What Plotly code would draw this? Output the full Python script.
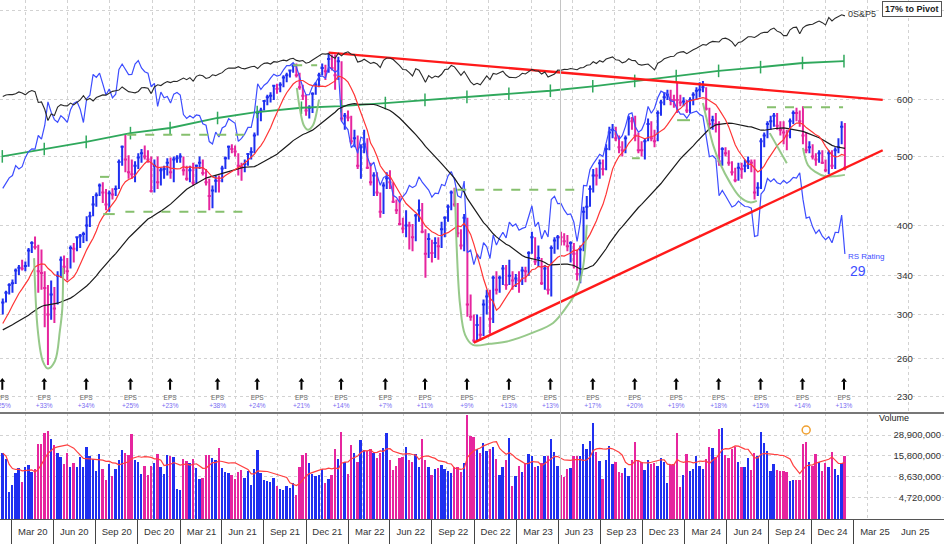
import numpy as np
import pandas as pd
import plotly.graph_objects as go

UP = '#1f2ff0'
DOWN = '#e6259e'
GRID = '#d2d2d2'
FONT = 'Liberation Sans, Arial, sans-serif'

# weekly bars, week ending Friday, first visible week
first_week = '2019-12-13'

# closes from Mar-Dec 2019, only used to seed the 10 and 40 week averages
seed_close = [266, 262, 266, 272, 275, 282, 286, 285, 276, 277, 270, 271, 280, 285, 300, 295,
              303, 310, 306, 306, 296, 290, 284, 282, 284, 287, 282, 283, 276, 268, 270, 272,
              268, 283, 290, 300, 305, 310, 305]

high_2019 = [316, 324, 332]
low_2019 = [300, 312, 320]
close_2019 = [312, 322, 330]

high_2020 = [336, 348, 352, 358, 356, 372, 380, 386, 376, 370, 345, 330, 335, 328, 345, 362, 363,
             360, 375, 378, 386, 389, 392, 412, 418, 440, 445, 458, 460, 450, 448, 451, 455, 495, 518,
             536, 502, 495, 492, 505, 512, 518, 510, 500, 495, 500, 482, 485, 497, 498, 500, 502]
low_2020 = [322, 331, 341, 346, 345, 350, 366, 370, 322, 325, 288, 255, 295, 292, 310, 338, 342,
            335, 348, 355, 368, 372, 378, 380, 398, 412, 425, 440, 430, 420, 418, 435, 440, 450, 485,
            475, 465, 465, 460, 480, 490, 495, 490, 445, 445, 450, 455, 465, 470, 465, 460, 490]
close_2020 = [332, 346, 349, 348, 351, 369, 378, 373, 345, 343, 327, 300, 320, 306, 340, 358, 350,
              345, 372, 371, 385, 387, 389, 400, 412, 428, 441, 455, 445, 428, 444, 442, 450, 491, 516,
              495, 475, 472, 485, 498, 505, 500, 495, 447, 485, 460, 478, 480, 490, 475, 495, 497]

high_2021 = [505, 500, 485, 485, 490, 487, 500, 495, 480, 465, 455, 470, 470, 485, 500, 518, 520, 518,
             505, 490, 495, 505, 515, 540, 580, 585, 600, 610, 615, 630, 632, 635, 650, 655, 662,
             673, 675, 655, 630, 610, 590, 615, 635, 655, 675, 672, 699, 695, 695, 690, 680, 575, 580]
low_2021 = [490, 470, 462, 460, 455, 458, 480, 470, 455, 420, 423, 445, 445, 460, 480, 495, 505, 500,
            470, 462, 475, 485, 495, 505, 535, 560, 580, 590, 595, 600, 612, 615, 625, 635, 645,
            655, 645, 620, 600, 570, 565, 575, 610, 625, 650, 640, 655, 660, 620, 640, 560, 545, 560]
close_2021 = [500, 478, 465, 478, 459, 485, 490, 474, 460, 440, 448, 462, 462, 481, 497, 516, 512, 508,
              485, 483, 488, 504, 507, 535, 575, 580, 598, 605, 608, 628, 622, 630, 645, 650, 660,
              670, 650, 625, 608, 580, 585, 612, 630, 650, 665, 658, 685, 665, 650, 680, 565, 570, 567]

high_2022 = [570, 545, 535, 520, 545, 530, 490, 475, 475, 445, 460, 475, 478, 460, 435, 440, 410,
             420, 405, 402, 415, 435, 430, 395, 390, 382, 385, 385, 405, 412, 428, 448, 452, 430,
             395, 415, 410, 320, 300, 300, 298, 315, 325, 325, 340, 345, 340, 352, 352, 358, 345, 342]
low_2022 = [520, 515, 480, 465, 505, 480, 455, 440, 440, 410, 415, 450, 450, 430, 415, 400, 390,
            385, 370, 368, 380, 405, 390, 338, 360, 355, 360, 358, 372, 385, 405, 420, 425, 385,
            370, 368, 298, 294, 274, 276, 276, 280, 300, 282, 292, 320, 322, 330, 325, 330, 325, 328]
close_2022 = [525, 530, 485, 515, 520, 482, 460, 470, 445, 418, 455, 466, 460, 432, 420, 402, 396,
              400, 400, 385, 413, 420, 392, 365, 383, 366, 378, 374, 395, 410, 425, 445, 428, 390,
              375, 410, 310, 298, 276, 290, 281, 310, 318, 296, 338, 325, 338, 348, 330, 340, 335, 337]

high_2023 = [345, 350, 350, 368, 392, 385, 375, 360, 352, 350, 375, 385, 388, 392, 390, 388, 380,
             378, 370, 375, 425, 440, 455, 480, 482, 495, 495, 520, 550, 555, 550, 535, 525, 535,
             570, 568, 570, 540, 525, 530, 565, 560, 545, 580, 600, 615, 620, 620, 610, 635, 610, 605]
low_2023 = [322, 330, 333, 340, 365, 352, 350, 330, 325, 320, 318, 365, 370, 375, 375, 368, 355,
            348, 335, 332, 368, 408, 425, 445, 455, 465, 470, 478, 510, 530, 525, 505, 500, 505,
            535, 545, 525, 505, 500, 495, 525, 525, 515, 525, 570, 590, 600, 590, 585, 575, 588, 588]
close_2023 = [335, 346, 345, 366, 385, 356, 360, 332, 348, 325, 372, 381, 385, 385, 380, 374, 378,
              365, 342, 370, 418, 425, 450, 470, 470, 489, 480, 512, 540, 545, 530, 515, 510, 530,
              565, 560, 535, 510, 510, 525, 555, 530, 525, 575, 595, 605, 610, 600, 600, 600, 595, 597]

high_2024 = [600, 605, 615, 625, 635, 638, 625, 585, 570, 575, 560, 515, 515, 510, 492, 482, 490,
             490, 495, 500, 495, 495, 460, 530, 540, 560, 570, 575, 575, 560, 560, 545, 565, 580, 585,
             580, 588, 540, 525, 520, 505, 510, 510, 495, 510, 510, 515, 530, 560, 557]
low_2024 = [575, 575, 590, 600, 605, 615, 580, 545, 545, 540, 485, 485, 500, 485, 470, 460, 462,
            465, 475, 480, 475, 435, 440, 450, 515, 530, 545, 550, 545, 535, 520, 510, 530, 555, 560,
            550, 520, 505, 505, 495, 485, 490, 488, 475, 472, 480, 480, 505, 520, 478]
close_2024 = [580, 600, 610, 618, 620, 625, 583, 555, 562, 555, 492, 512, 505, 490, 475, 463, 482,
              480, 485, 492, 490, 445, 452, 525, 535, 555, 560, 570, 552, 545, 540, 535, 560, 575, 575,
              560, 535, 510, 515, 500, 495, 505, 490, 478, 505, 485, 510, 515, 550, 482]

# weekly volume, millions of shares
vol_2019 = [17.1, 14.4, 5.6]
vol_2020 = [6.9, 9.6, 11.1, 7.4, 11.6, 12.2, 10.1, 10.8, 22.1, 22.1, 30.8, 32.6, 25.6, 21.7, 17.4,
            15.5, 12.5, 17.4, 11.6, 12.8, 11.6, 15.5, 11.6, 20.4, 15.8, 14.4, 10.4, 16.8, 10.8, 7.95,
            12.5, 8.8, 10.8, 14.1, 18.8, 17.1, 16.3, 29.6, 14.1, 13.4, 9.35, 11.8, 9.2, 11.8, 12.8,
            16.8, 11.4, 9.3, 16.3, 15.8, 15.5, 6.1]
vol_2021 = [5.85, 14.4, 13.8, 13.0, 14.4, 11.1, 8.2, 8.4, 16.3, 16.3, 15.1, 14.1, 19.8, 11.1, 10.1,
            9.6, 9.2, 8.2, 10.1, 10.6, 8.4, 10.3, 6.9, 10.8, 18.8, 9.8, 7.8, 7.6, 7.4, 8.4, 6.7, 6.1,
            6.0, 6.7, 6.3, 7.25, 5.1, 11.4, 16.3, 17.1, 12.8, 9.35, 9.0, 9.2, 10.8, 7.3, 8.2, 9.2,
            19.2, 14.4, 31.7, 13.4, 9.4]
vol_2022 = [21.7, 17.4, 13.4, 25.0, 18.8, 18.0, 19.2, 17.4, 14.8, 17.1, 19.8, 30.8, 14.1, 10.6, 11.8,
            14.8, 15.2, 20.4, 14.1, 13.4, 16.8, 11.6, 25.6, 14.1, 11.4, 9.2, 10.8, 11.1, 12.2, 10.8,
            10.4, 9.8, 11.4, 11.4, 10.1, 12.8, 51.4, 28.1, 27.2, 19.2, 17.1, 22.7, 18.4, 19.2, 20.4,
            14.6, 9.2, 11.4, 14.1, 26.3, 6.6, 8.8]
vol_2023 = [11.8, 10.1, 12.8, 16.8, 15.8, 11.4, 11.8, 12.8, 15.8, 15.8, 25.8, 17.7, 11.8, 9.2, 8.6,
            10.8, 11.1, 15.8, 15.8, 15.8, 22.5, 19.2, 24.2, 41.1, 17.7, 13.6, 8.2, 14.1, 21.1, 12.5,
            13.4, 10.1, 9.8, 11.1, 9.0, 14.1, 23.3, 14.1, 13.4, 10.6, 14.1, 12.5, 13.0, 11.8, 14.8,
            13.4, 7.3, 12.2, 12.5, 30.8, 6.5, 9.2]
vol_2024 = [16.6, 10.4, 10.8, 15.8, 11.8, 10.8, 14.6, 20.4, 19.8, 15.5, 34.4, 35.4, 16.3, 14.8, 19.2,
            20.4, 13.4, 11.6, 11.4, 14.8, 10.6, 17.4, 15.8, 31.7, 22.7, 18.4, 10.4, 12.5, 10.6, 10.3,
            10.3, 10.1, 7.6, 7.8, 7.8, 8.0, 22.5, 23.3, 13.4, 11.8, 16.6, 13.4, 10.4, 13.0, 11.6,
            17.7, 10.8, 9.2, 12.8, 15.9]

# S&P 500 weekly closes
spx_2019 = [3169, 3221, 3240]
spx_2020 = [3235, 3265, 3330, 3295, 3226, 3328, 3380, 3338, 2954, 2972, 2711, 2305, 2541, 2489, 2790,
            2875, 2837, 2831, 2930, 2864, 2955, 3044, 3194, 3041, 3098, 3009, 3130, 3185, 3225, 3216,
            3271, 3351, 3373, 3397, 3508, 3427, 3341, 3319, 3298, 3348, 3477, 3484, 3465, 3270, 3509,
            3585, 3558, 3638, 3699, 3663, 3709, 3703]
spx_2021 = [3756, 3825, 3768, 3841, 3714, 3887, 3934, 3907, 3811, 3842, 3943, 3913, 3975, 4020, 4129,
            4185, 4180, 4181, 4233, 4174, 4156, 4204, 4230, 4247, 4166, 4281, 4352, 4370, 4327, 4412,
            4395, 4437, 4468, 4442, 4509, 4535, 4459, 4433, 4455, 4357, 4391, 4471, 4545, 4605, 4697,
            4683, 4698, 4595, 4538, 4712, 4620, 4726, 4766]
spx_2022 = [4677, 4663, 4398, 4432, 4501, 4419, 4349, 4385, 4329, 4204, 4463, 4543, 4546, 4488, 4393,
            4272, 4132, 4123, 4024, 3901, 4158, 4109, 3901, 3675, 3912, 3825, 3899, 3863, 3962, 4130,
            4145, 4280, 4228, 4058, 3924, 4067, 3873, 3693, 3586, 3640, 3583, 3753, 3901, 3771, 3993,
            3965, 4026, 4072, 3934, 3852, 3845, 3840]
spx_2023 = [3895, 3999, 3973, 4071, 4136, 4090, 4079, 3970, 4046, 3862, 3917, 3971, 4109, 4105, 4138,
            4133, 4169, 4136, 4124, 4192, 4205, 4282, 4299, 4410, 4348, 4450, 4399, 4505, 4536, 4582,
            4478, 4464, 4370, 4406, 4516, 4457, 4450, 4320, 4288, 4308, 4327, 4224, 4117, 4358, 4415,
            4514, 4559, 4595, 4604, 4719, 4755, 4770]
spx_2024 = [4697, 4784, 4840, 4891, 4959, 5027, 5006, 5089, 5137, 5124, 5117, 5234, 5254, 5204, 5123,
            4967, 5100, 5128, 5223, 5303, 5305, 5278, 5347, 5432, 5465, 5460, 5567, 5615, 5505, 5459,
            5346, 5344, 5554, 5635, 5648, 5408, 5626, 5703, 5738, 5751, 5815, 5865, 5808, 5729, 5996,
            5871, 5969, 6032, 6090, 6051]

# earnings reports: dates, EPS growth and the EPS line level
eps_dates = ['2019-12-12', '2020-03-12', '2020-06-11', '2020-09-15', '2020-12-10', '2021-03-23',
             '2021-06-17', '2021-09-21', '2021-12-16', '2022-03-22', '2022-06-16', '2022-09-15',
             '2022-12-15', '2023-03-15', '2023-06-15', '2023-09-14', '2023-12-13', '2024-03-14',
             '2024-06-13', '2024-09-12', '2024-12-11']
eps_growth = ['+25%', '+33%', '+34%', '+25%', '+23%', '+38%', '+24%', '+21%', '+14%', '+7%', '+11%',
              '+9%', '+13%', '+13%', '+17%', '+20%', '+19%', '+18%', '+15%', '+14%', '+13%']
eps_line = [500, 512, 524, 539, 548, 566, 577, 585, 588, 594, 600, 606, 612, 618, 627, 638, 648,
            659, 667, 676, 680]

# drawn trendlines
trend_top_dates = ['2021-11-19', '2025-03-05']
trend_top_price = [699, 600]
trend_low_dates = ['2022-09-30', '2025-03-05']
trend_low_price = [274, 510]

# base outlines (cups)
cups = [
    (['2020-02-19', '2020-02-27', '2020-03-09', '2020-03-20', '2020-04-04', '2020-04-15',
      '2020-04-20', '2020-04-22'],
     [360, 285, 258, 252, 258, 285, 305, 349]),
    (['2021-09-11', '2021-09-18', '2021-09-26', '2021-10-05', '2021-10-16', '2021-10-25',
      '2021-10-29'],
     [624, 581, 553, 545, 553, 581, 600]),
    (['2022-08-20', '2022-08-24', '2022-08-31', '2022-09-11', '2022-09-28', '2022-11-04',
      '2022-12-11', '2023-02-05', '2023-03-21', '2023-04-20', '2023-05-12', '2023-05-25',
      '2023-06-02'],
     [451, 370, 310, 281, 272, 273, 275, 283, 292, 308, 325, 350, 401]),
    (['2024-02-09', '2024-02-20', '2024-03-02', '2024-03-17', '2024-04-08', '2024-04-29',
      '2024-05-21', '2024-06-05'],
     [594, 554, 519, 489, 459, 439, 431, 433]),
    (['2024-07-03', '2024-08-09'], [539, 489]),
    (['2024-09-13', '2024-09-24', '2024-10-09', '2024-10-31', '2024-11-21', '2024-12-13'],
     [514, 486, 476, 469, 469, 471]),
]

# pivot / base lines: start, end, price
pivot_dashed = [('2020-07-11', '2020-08-12', 468), ('2020-09-08', '2021-06-08', 536),
                ('2020-09-04', '2021-06-01', 418), ('2021-09-03', '2021-10-25', 671),
                ('2022-08-25', '2023-05-25', 449), ('2024-06-27', '2024-12-09', 586)]
pivot_solid = [('2020-07-18', '2020-08-12', 415), ('2023-09-08', '2023-09-25', 497),
               ('2023-12-15', '2024-01-12', 562)]

price_ticks = [230, 260, 300, 340, 400, 500, 600, 800]
price_labels = ['230', '260', '300', '340', '400', '500', '600', '']  # 800 sits under the pivot box
vol_ticks = [4.72e6, 8.63e6, 15.8e6, 28.9e6]
vol_labels = ['4,720,000', '8,630,000', '15,800,000', '28,900,000']
quarter_labels = ['Mar 20', 'Jun 20', 'Sep 20', 'Dec 20', 'Mar 21', 'Jun 21', 'Sep 21', 'Dec 21',
                  'Mar 22', 'Jun 22', 'Sep 22', 'Dec 22', 'Mar 23', 'Jun 23', 'Sep 23', 'Dec 23',
                  'Mar 24', 'Jun 24', 'Sep 24', 'Dec 24', 'Mar 25', 'Jun 25']
grid_dates = pd.date_range('2020-02-01', periods=len(quarter_labels), freq='3MS')
separator_dates = pd.date_range('2020-01-01', periods=len(quarter_labels) + 1, freq='3MS')

RS_SCALE = 4580

high = high_2019 + high_2020 + high_2021 + high_2022 + high_2023 + high_2024
low = low_2019 + low_2020 + low_2021 + low_2022 + low_2023 + low_2024
close = close_2019 + close_2020 + close_2021 + close_2022 + close_2023 + close_2024
volume = [v * 1e6 for v in vol_2019 + vol_2020 + vol_2021 + vol_2022 + vol_2023 + vol_2024]
spx = spx_2019 + spx_2020 + spx_2021 + spx_2022 + spx_2023 + spx_2024
assert len(high) == len(low) == len(close) == len(volume) == len(spx), \
    (len(high), len(low), len(close), len(volume), len(spx))

weeks = pd.date_range(first_week, periods=len(close), freq='W-FRI')
df = pd.DataFrame({'high': high, 'low': low, 'close': close, 'volume': volume, 'spx': spx},
                  index=weeks)
df['prev'] = [seed_close[-1]] + close[:-1]
df['up'] = df['close'] > df['prev']

all_close = pd.Series(seed_close + close)
df['ma10'] = all_close.rolling(10).mean().iloc[len(seed_close):].values
df['ma40'] = all_close.rolling(40).mean().iloc[len(seed_close):].values
df['vol_ma'] = df['volume'].rolling(10, min_periods=1).mean()
df['rs'] = df['close'] / df['spx'] * RS_SCALE

fig = go.Figure()

# EPS line with quarter marks
fig.add_trace(go.Scatter(x=eps_dates, y=eps_line, mode='lines+markers',
                         line=dict(color='#2fa85c', width=1.8),
                         marker=dict(symbol='line-ns', size=9, line=dict(width=1.5, color='#2fa85c'))))
# S&P 500 line on its own scale
fig.add_trace(go.Scatter(x=df.index, y=df['spx'], mode='lines', yaxis='y3',
                         line=dict(color='#2a2a2a', width=1.1)))
# relative strength line
fig.add_trace(go.Scatter(x=df.index, y=df['rs'], mode='lines', line=dict(color='#3d4dff', width=1.2)))
# moving averages
fig.add_trace(go.Scatter(x=df.index, y=df['ma40'], mode='lines', line=dict(color='#1a1a1a', width=1.2)))
fig.add_trace(go.Scatter(x=df.index, y=df['ma10'], mode='lines', line=dict(color='#ff3535', width=1.2)))

# base drawings
for d, p in cups:
    fig.add_trace(go.Scatter(x=d, y=p, mode='lines', line=dict(color='#8cc47e', width=2, shape='spline'),
                             opacity=0.9))
for d0, d1, p in pivot_dashed:
    fig.add_trace(go.Scatter(x=[d0, d1], y=[p, p], mode='lines',
                             line=dict(color='#86c06e', width=2, dash='dash')))
for d0, d1, p in pivot_solid:
    fig.add_trace(go.Scatter(x=[d0, d1], y=[p, p], mode='lines', line=dict(color='#86c06e', width=2)))

# trendlines
fig.add_trace(go.Scatter(x=trend_top_dates, y=trend_top_price, mode='lines',
                         line=dict(color='#ff1a1a', width=2.4)))
fig.add_trace(go.Scatter(x=trend_low_dates, y=trend_low_price, mode='lines',
                         line=dict(color='#ff1a1a', width=2.4)))

# weekly price bars, colored by close vs prior close
for flag, col in [(True, UP), (False, DOWN)]:
    sub = df[df['up'] == flag]
    fig.add_trace(go.Ohlc(x=sub.index, open=sub['close'], high=sub['high'], low=sub['low'],
                          close=sub['close'], tickwidth=0.5,
                          increasing=dict(line=dict(color=col, width=2)),
                          decreasing=dict(line=dict(color=col, width=2))))

# earnings markers: small arrow (head + stem) then label and growth
n_eps = len(eps_dates)
fig.add_trace(go.Scatter(x=eps_dates, y=[238.5] * n_eps, mode='markers',
                         marker=dict(symbol='line-ns', size=6, line=dict(width=2, color='black'))))
fig.add_trace(go.Scatter(x=eps_dates, y=[242.5] * n_eps, mode='markers',
                         marker=dict(symbol='triangle-up', size=5, color='black')))
fig.add_trace(go.Scatter(x=eps_dates, y=[229] * n_eps, mode='text', text=['EPS'] * n_eps,
                         textfont=dict(size=6.5, color='#666', family=FONT)))
fig.add_trace(go.Scatter(x=eps_dates, y=[223.3] * n_eps, mode='text', text=eps_growth,
                         textfont=dict(size=6.5, color='#7a6cf2', family=FONT)))

# volume panel
fig.add_trace(go.Bar(x=df.index, y=df['volume'], xaxis='x2', yaxis='y2', width=4 * 86400000,
                     marker=dict(color=np.where(df['up'], UP, DOWN), line=dict(width=0))))
fig.add_trace(go.Scatter(x=df.index, y=df['vol_ma'], mode='lines', xaxis='x2', yaxis='y2',
                         line=dict(color='#ff4040', width=1.2)))
fig.add_trace(go.Scatter(x=['2024-09-20'], y=[33.4e6], mode='markers', xaxis='x2', yaxis='y2',
                         marker=dict(symbol='circle-open', size=8, color='#f0a030', line=dict(width=1.5))))

# plotly drops the last quarter label at the right edge, so it is written as an annotation
axis_labels = quarter_labels[:-1] + ['']

x_range = ['2019-12-07', '2025-07-16']
fig.update_layout(
    width=944, height=544,
    margin=dict(l=0, r=0, t=0, b=0),
    paper_bgcolor='white', plot_bgcolor='white',
    showlegend=False, hovermode=False,
    font=dict(family=FONT, color='#333'),
    bargap=0,
    xaxis=dict(domain=[0, 1], anchor='y', type='date', range=x_range, tickvals=grid_dates,
               showticklabels=False, showgrid=True, gridcolor=GRID, griddash='dot', ticks='',
               zeroline=False, showline=False, rangeslider=dict(visible=False)),
    xaxis2=dict(domain=[0, 1], anchor='y2', type='date', matches='x', tickvals=grid_dates,
                ticktext=axis_labels, ticklabelshift=7, ticklabelstandoff=4, ticklabeloverflow='allow',
                showgrid=True, gridcolor=GRID,
                griddash='dot', ticks='', showline=True, linecolor='#555', linewidth=1,
                tickfont=dict(size=9.5, color='#333'),
                minor=dict(tickvals=separator_dates, ticks='outside', ticklen=24, tickcolor='#444',
                           tickwidth=1, showgrid=False)),
    yaxis=dict(domain=[0.2408, 1], type='log', range=[np.log10(218.3), np.log10(828.5)],
               anchor='free', position=0.949, side='right', tickvals=price_ticks,
               ticktext=price_labels, showgrid=True, gridcolor=GRID, griddash='dot',
               ticks='', zeroline=False, showline=False, automargin=False,
               tickfont=dict(size=9.5, color='#333')),
    yaxis3=dict(overlaying='y', anchor='free', position=0, range=[-8157, 6619], visible=False),
    yaxis2=dict(domain=[0.046, 0.2408], type='log', range=[6.411, 7.736], anchor='x2', side='right',
                ticklabelposition='inside', tickvals=vol_ticks, ticktext=vol_labels, showgrid=True,
                gridcolor=GRID, griddash='dot', ticks='', zeroline=False, showline=False,
                automargin=False, tickfont=dict(size=9.5, color='#333')),
    shapes=[
        dict(type='line', xref='paper', yref='paper', x0=0, x1=1, y0=0.2408, y1=0.2408,
             line=dict(color='#777', width=2)),
        dict(type='line', xref='x', yref='paper', x0='2023-04-06', x1='2023-04-06', y0=0.046, y1=1,
             line=dict(color='#c4c4c4', width=1)),
    ],
    annotations=[
        dict(xref='paper', yref='paper', x=0.998, y=0.999, xanchor='right', yanchor='top',
             text='<b>17% to Pivot</b>', showarrow=False, bgcolor='white', bordercolor='#555',
             borderwidth=1, borderpad=2, font=dict(size=9, color='#222')),
        dict(xref='x', yref='paper', x='2024-12-16', y=1 - 14 / 544, xanchor='left', yanchor='middle',
             text='0S&P5', showarrow=False, font=dict(size=9, color='#333')),
        dict(xref='x', yref='y', x='2024-12-16', y=np.log10(362), xanchor='left', yanchor='middle',
             text='RS Rating', showarrow=False, font=dict(size=8, color='#3d4dff')),
        dict(xref='x', yref='y', x='2025-01-10', y=np.log10(345), xanchor='center', yanchor='middle',
             text='29', showarrow=False, font=dict(size=14, color='#3d4dff')),
        dict(xref='paper', yref='paper', x=911 / 944, y=1 - 418 / 544, xanchor='right', yanchor='middle',
             text='Volume', showarrow=False, font=dict(size=9, color='#222')),
        dict(xref='x', yref='paper', x='2025-05-16', y=1 - 531 / 544, xanchor='center', yanchor='middle',
             text=quarter_labels[-1], showarrow=False, font=dict(size=9.5, color='#333')),
    ],
)

# the page body keeps its default 8px margin unless it is cleared
fig.write_html('out.html', config={'displayModeBar': False},
               post_script="document.body.style.margin='0';")
